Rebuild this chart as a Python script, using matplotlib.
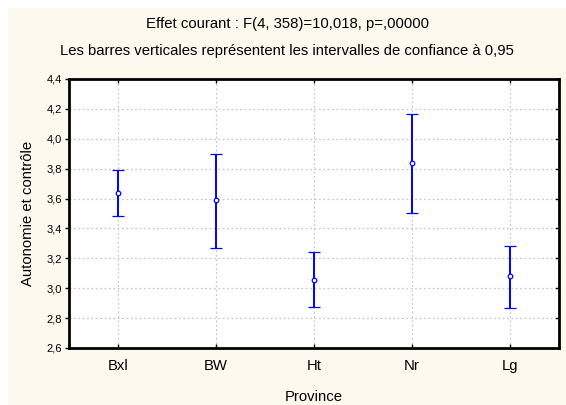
import matplotlib
matplotlib.use("Agg")
import matplotlib.pyplot as plt
from matplotlib.patches import Rectangle

plt.rcParams['font.family'] = ['Liberation Sans', 'DejaVu Sans']

categories = ["Bxl", "BW", "Ht", "Nr", "Lg"]
means = [3.640, 3.587, 3.053, 3.840, 3.080]
upper = [3.789, 3.895, 3.245, 4.164, 3.284]
lower = [3.484, 3.269, 2.876, 3.504, 2.865]
yticks = [2.6, 2.8, 3.0, 3.2, 3.4, 3.6, 3.8, 4.0, 4.2, 4.4]
ytick_labels = ["2,6", "2,8", "3,0", "3,2", "3,4", "3,6", "3,8", "4,0", "4,2", "4,4"]

W, H = 566, 405
fig = plt.figure(figsize=(W / 100, H / 100), dpi=100)
fig.patch.set_facecolor("#FDF9EE")
# white strips on top and left
fig.patches.append(Rectangle((0, 0), 8 / W, 1, transform=fig.transFigure,
                             facecolor="white", edgecolor="none", zorder=-10))
fig.patches.append(Rectangle((0, 1 - 8 / H), 1, 8 / H, transform=fig.transFigure,
                             facecolor="white", edgecolor="none", zorder=-10))

ax = fig.add_axes([69 / W, 1 - 348 / H, (559 - 69) / W, (348 - 79) / H])
ax.set_facecolor("white")

x = list(range(1, len(categories) + 1))
yerr = [[m - l for m, l in zip(means, lower)], [u - m for u, m in zip(upper, means)]]
ax.errorbar(x, means, yerr=yerr, fmt="o", color="#0000FF", ecolor="#0000FF",
            elinewidth=1.4, capsize=4.3, capthick=1.4, markersize=3.3,
            markerfacecolor="white", markeredgecolor="#0000FF", markeredgewidth=0.9, zorder=3)

ax.set_xlim(0.5, 5.5)
ax.set_ylim(2.6, 4.4)
ax.set_xticks(x)
ax.set_xticklabels(categories, fontsize=10.7)
ax.set_yticks(yticks)
ax.set_yticklabels(ytick_labels, fontsize=8)

ax.tick_params(axis="x", direction="in", top=True, bottom=True, length=3, width=1, pad=8)
ax.tick_params(axis="y", which="both", left=True, right=False, direction="out", length=3, width=1, pad=2)
# right inward ticks
for yv in yticks[1:-1]:
    ax.plot([5.5 - 0.03, 5.5], [yv, yv], color="black", lw=1, clip_on=False, zorder=4)

ax.grid(True, color="#C8C8C8", linestyle=(0, (1.5, 2)), linewidth=0.9)
ax.set_axisbelow(True)
for s in ax.spines.values():
    s.set_linewidth(2)
    s.set_color("black")

ax.set_xlabel("Province", fontsize=10.7, labelpad=12)
ax.set_ylabel("Autonomie et contrôle", fontsize=10.7, labelpad=8)

fig.text(287 / W, 1 - 24 / H, "Effet courant : F(4, 358)=10,018, p=,00000",
         ha="center", va="center", fontsize=10.7)
fig.text(287 / W, 1 - 51 / H, "Les barres verticales représentent les intervalles de confiance à 0,95",
         ha="center", va="center", fontsize=10.7)

fig.savefig("out.png", dpi=100, facecolor=fig.get_facecolor())
